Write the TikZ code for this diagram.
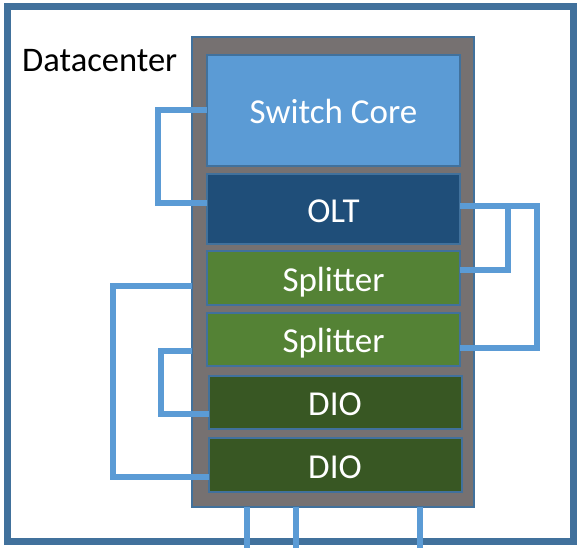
\documentclass[tikz,border=0pt]{standalone}
\usepackage{fontspec}
\setmainfont{Carlito}
\usetikzlibrary{positioning}
\definecolor{rackedge}{HTML}{41719C}
\definecolor{rackgray}{HTML}{767171}
\definecolor{switchblue}{HTML}{5B9BD5}
\definecolor{oltblue}{HTML}{1F4E79}
\definecolor{splitgreen}{HTML}{548235}
\definecolor{diogreen}{HTML}{385723}
\definecolor{linkblue}{HTML}{5B9BD5}
\tikzset{unit/.style={draw=rackedge, line width=2pt, minimum width=253pt, outer sep=0pt, inner sep=0pt,
                      text=white, text height=26pt, text depth=0pt, font=\fontsize{35}{40}\selectfont},
         link/.style={draw=linkblue, line width=6pt}}

\begin{document}
\begin{tikzpicture}[x=1pt, y=-1pt]
            \useasboundingbox (0,0) rectangle (577,548);
            \node[draw=rackedge, line width=7pt, minimum width=566pt, minimum height=535pt, outer sep=0pt] (datacenter) at (290.5,274) {};
            \node[anchor=base west, inner sep=0pt, font=\fontsize{34.5}{40}\selectfont] (datacenter-label) at (22,72) {Datacenter};

            \node[draw=rackedge, fill=rackgray, line width=2pt, minimum width=282pt, minimum height=470pt, outer sep=0pt] (rack) at (333,272) {};
            \node[unit, fill=switchblue, minimum height=111pt] (switch-core) at (333.5,110.5) {Switch Core};
            \node[unit, fill=oltblue, minimum height=70pt, below=8pt of switch-core] (olt) {OLT};
            \node[unit, fill=splitgreen, minimum height=54pt, below=7pt of olt] (splitter-a) {Splitter};
            \node[unit, fill=splitgreen, minimum height=53pt, below=8pt of splitter-a] (splitter-b) {Splitter};
            \node[unit, fill=diogreen, minimum height=53pt, below=10pt of splitter-b, xshift=1.5pt] (dio-a) {DIO};
            \node[unit, fill=diogreen, minimum height=54pt, below=9pt of dio-a] (dio-b) {DIO};

            \coordinate (splitter-a-in) at ([yshift=-8pt]splitter-a.west);
            \coordinate (splitter-b-in) at ([yshift=-11.5pt]splitter-b.west);

            \draw[link] (switch-core.west) -- ++(-49,0) |- ([yshift=6pt]olt.west);
            \draw[link] ([yshift=3pt]olt.east) -- ++(77,0) |- ([yshift=-8.5pt]splitter-b.east);
            \draw[link] ([yshift=8pt]splitter-a.east) -- ++(48,0) |- ([yshift=3pt]olt.east);
            \draw[link] (rack.west |- splitter-a-in) -- ++(-79,0) |- ([yshift=-12pt]dio-b.west);
            \draw[link] (rack.west |- splitter-b-in) -- ++(-31,0) |- ([yshift=-11.5pt]dio-a.west);
            \foreach \dx in {55,104,228}
                \draw[link] (rack.south west) ++(\dx,0) -- +(0,41);
\end{tikzpicture}
\end{document}
